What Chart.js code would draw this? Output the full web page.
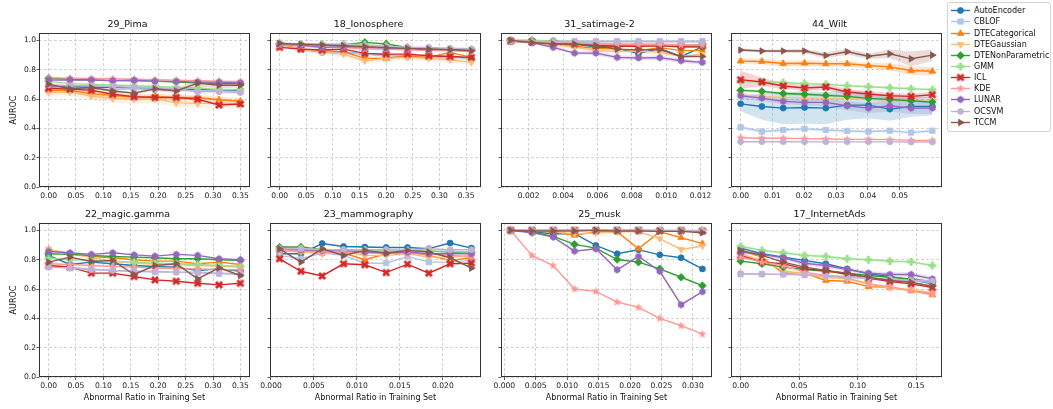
<!DOCTYPE html>
<html>
<head>
<meta charset="utf-8">
<script src="https://cdn.jsdelivr.net/npm/chart.js@4.4.1/dist/chart.umd.min.js"></script>
<style>
  body { margin: 0; background: #fff; font-family: 'DejaVu Sans', sans-serif; }
  #page { position: relative; width: 1053px; height: 409px; overflow: hidden; }
  .panel { position: absolute; }
  #legendBox { position: absolute; left: 947px; top: 2px; width: 104px; height: 130px; border: 1px solid #d3d3d3; border-radius: 3px; box-sizing: border-box; background: #fff; }
  .lrow { position: absolute; left: 950px; height: 11px; display: flex; align-items: center; font-size: 8px; color: #111; white-space: nowrap; }
  .lrow canvas { margin-right: 3px; }
</style>
</head>
<body>
<div id="page"><div id="legendBox"></div></div>
<script>
const methods = ['AutoEncoder', 'CBLOF', 'DTECategorical', 'DTEGaussian', 'DTENonParametric', 'GMM', 'ICL', 'KDE', 'LUNAR', 'OCSVM', 'TCCM'];
const colors = ['#1f77b4', '#aec7e8', '#ff7f0e', '#ffbb78', '#2ca02c', '#98df8a', '#d62728', '#ff9896', '#9467bd', '#c5b0d5', '#8c564b'];
const markers = ['circle', 'rect', 'triangle', 'triangleDown', 'rectRot', 'plus', 'x', 'star', 'hex', 'circle', 'triangleRight'];
const yTicks = [0, 0.2, 0.4, 0.6, 0.8, 1.0];

// 29_Pima
const pimaX = [0, 0.039, 0.078, 0.117, 0.156, 0.194, 0.233, 0.272, 0.311, 0.35];
const pimaTicks = [0, 0.05, 0.10, 0.15, 0.20, 0.25, 0.30, 0.35];
const pimaAUROC = [
  [0.69, 0.685, 0.68, 0.68, 0.675, 0.665, 0.665, 0.665, 0.66, 0.66],
  [0.68, 0.675, 0.67, 0.665, 0.67, 0.665, 0.66, 0.655, 0.655, 0.65],
  [0.66, 0.66, 0.635, 0.625, 0.61, 0.615, 0.61, 0.61, 0.595, 0.585],
  [0.644, 0.648, 0.62, 0.603, 0.598, 0.60, 0.575, 0.57, 0.57, 0.565],
  [0.742, 0.735, 0.73, 0.725, 0.725, 0.722, 0.716, 0.71, 0.705, 0.705],
  [0.72, 0.705, 0.70, 0.695, 0.69, 0.685, 0.68, 0.675, 0.665, 0.665],
  [0.673, 0.667, 0.66, 0.632, 0.616, 0.61, 0.61, 0.598, 0.559, 0.566],
  [0.745, 0.742, 0.74, 0.738, 0.735, 0.732, 0.728, 0.725, 0.722, 0.72],
  [0.73, 0.73, 0.73, 0.725, 0.728, 0.72, 0.72, 0.715, 0.715, 0.71],
  [0.696, 0.69, 0.69, 0.685, 0.68, 0.675, 0.67, 0.65, 0.65, 0.644],
  [0.70, 0.67, 0.678, 0.655, 0.64, 0.67, 0.655, 0.708, 0.694, 0.694]
];
const pimaStd = {
  DTEGaussian: [0.03, 0.03, 0.03, 0.03, 0.03, 0.03, 0.03, 0.03, 0.03, 0.03],
  DTECategorical: [0.02, 0.02, 0.02, 0.02, 0.02, 0.02, 0.02, 0.02, 0.02, 0.02],
  TCCM: [0.01, 0.01, 0.01, 0.01, 0.01, 0.015, 0.015, 0.025, 0.02, 0.015],
  OCSVM: [0.015, 0.015, 0.015, 0.015, 0.015, 0.015, 0.015, 0.015, 0.015, 0.015]
};

// 18_Ionosphere
const ionoX = [0, 0.04, 0.08, 0.12, 0.16, 0.20, 0.24, 0.28, 0.32, 0.36];
const ionoTicks = [0, 0.05, 0.10, 0.15, 0.20, 0.25, 0.30, 0.35];
const ionoAUROC = [
  [0.963, 0.94, 0.918, 0.918, 0.906, 0.90, 0.89, 0.89, 0.89, 0.877],
  [0.963, 0.94, 0.92, 0.918, 0.906, 0.895, 0.895, 0.89, 0.884, 0.877],
  [0.975, 0.94, 0.93, 0.922, 0.877, 0.877, 0.895, 0.884, 0.918, 0.884],
  [0.963, 0.94, 0.918, 0.906, 0.86, 0.877, 0.884, 0.877, 0.868, 0.85],
  [0.975, 0.975, 0.97, 0.97, 0.986, 0.975, 0.952, 0.93, 0.94, 0.936],
  [0.98, 0.975, 0.975, 0.975, 0.97, 0.96, 0.952, 0.945, 0.94, 0.936],
  [0.952, 0.94, 0.934, 0.94, 0.911, 0.906, 0.906, 0.895, 0.89, 0.884],
  [0.968, 0.963, 0.952, 0.952, 0.94, 0.94, 0.936, 0.93, 0.93, 0.922],
  [0.975, 0.968, 0.952, 0.957, 0.952, 0.947, 0.945, 0.94, 0.94, 0.936],
  [0.98, 0.975, 0.97, 0.968, 0.963, 0.957, 0.952, 0.952, 0.945, 0.94],
  [0.979, 0.973, 0.968, 0.963, 0.957, 0.95, 0.945, 0.94, 0.936, 0.929]
];
const ionoStd = {
  CBLOF: [0.01, 0.015, 0.015, 0.015, 0.015, 0.015, 0.015, 0.015, 0.015, 0.015],
  DTEGaussian: [0.01, 0.015, 0.02, 0.02, 0.02, 0.02, 0.02, 0.02, 0.02, 0.02],
  LUNAR: [0.01, 0.01, 0.015, 0.015, 0.015, 0.015, 0.015, 0.015, 0.015, 0.015]
};

// 31_satimage-2
const satX = [0.00095, 0.00219, 0.00343, 0.00467, 0.00591, 0.00715, 0.00839, 0.00963, 0.01087, 0.01211];
const satTicks = [0.002, 0.004, 0.006, 0.008, 0.010, 0.012];
const satAUROC = [
  [1.0, 0.985, 0.975, 0.975, 0.955, 0.945, 0.91, 0.945, 0.89, 0.955],
  [0.998, 0.995, 0.995, 0.995, 0.995, 0.995, 0.995, 0.995, 0.995, 0.995],
  [0.995, 0.985, 0.975, 0.96, 0.945, 0.94, 0.93, 0.95, 0.93, 0.93],
  [0.99, 0.985, 0.97, 0.955, 0.93, 0.925, 0.925, 0.92, 0.89, 0.905],
  [1.0, 1.0, 0.995, 0.98, 0.96, 0.963, 0.965, 0.965, 0.955, 0.955],
  [1.0, 1.0, 0.995, 0.985, 0.98, 0.975, 0.975, 0.975, 0.97, 0.97],
  [0.995, 0.99, 0.98, 0.975, 0.965, 0.96, 0.96, 0.962, 0.96, 0.962],
  [0.995, 0.99, 0.985, 0.98, 0.975, 0.972, 0.97, 0.97, 0.968, 0.968],
  [0.995, 0.985, 0.952, 0.913, 0.913, 0.884, 0.88, 0.882, 0.861, 0.85],
  [0.995, 0.99, 0.99, 0.99, 0.99, 0.99, 0.99, 0.99, 0.99, 0.99],
  [1.0, 0.985, 0.975, 0.975, 0.965, 0.94, 0.935, 0.937, 0.89, 0.89]
];
const satStd = {
  DTEGaussian: [0.005, 0.01, 0.015, 0.015, 0.015, 0.015, 0.015, 0.015, 0.015, 0.015],
  LUNAR: [0.005, 0.01, 0.01, 0.01, 0.015, 0.015, 0.015, 0.015, 0.015, 0.015]
};

// 44_Wilt
const wiltX = [0, 0.0067, 0.0134, 0.0201, 0.0268, 0.0335, 0.0402, 0.0469, 0.0536, 0.0603];
const wiltTicks = [0, 0.01, 0.02, 0.03, 0.04, 0.05];
const wiltAUROC = [
  [0.567, 0.549, 0.538, 0.542, 0.538, 0.558, 0.558, 0.531, 0.549, 0.549],
  [0.407, 0.378, 0.389, 0.396, 0.389, 0.382, 0.378, 0.384, 0.371, 0.384],
  [0.858, 0.856, 0.842, 0.844, 0.840, 0.840, 0.828, 0.819, 0.794, 0.789],
  [0.629, 0.618, 0.611, 0.606, 0.604, 0.602, 0.60, 0.595, 0.588, 0.584],
  [0.659, 0.652, 0.638, 0.632, 0.625, 0.618, 0.604, 0.597, 0.588, 0.579],
  [0.72, 0.718, 0.712, 0.705, 0.70, 0.691, 0.684, 0.677, 0.67, 0.664],
  [0.732, 0.716, 0.689, 0.675, 0.682, 0.648, 0.634, 0.622, 0.618, 0.629],
  [0.336, 0.332, 0.332, 0.330, 0.327, 0.325, 0.325, 0.323, 0.318, 0.318],
  [0.622, 0.606, 0.584, 0.577, 0.577, 0.554, 0.538, 0.554, 0.538, 0.538],
  [0.309, 0.309, 0.309, 0.308, 0.308, 0.308, 0.308, 0.308, 0.307, 0.307],
  [0.934, 0.927, 0.927, 0.927, 0.897, 0.922, 0.892, 0.908, 0.874, 0.899]
];
const wiltStd = {
  AutoEncoder: [0.05, 0.09, 0.11, 0.11, 0.11, 0.10, 0.09, 0.08, 0.07, 0.06],
  CBLOF: [0.012, 0.012, 0.012, 0.012, 0.012, 0.012, 0.012, 0.012, 0.012, 0.012],
  DTECategorical: [0.02, 0.02, 0.02, 0.02, 0.02, 0.02, 0.02, 0.025, 0.03, 0.03],
  DTENonParametric: [0.01, 0.01, 0.01, 0.01, 0.01, 0.01, 0.01, 0.01, 0.01, 0.01],
  GMM: [0.01, 0.01, 0.01, 0.01, 0.01, 0.01, 0.01, 0.01, 0.01, 0.01],
  ICL: [0.06, 0.03, 0.02, 0.02, 0.02, 0.02, 0.02, 0.02, 0.02, 0.02],
  LUNAR: [0.02, 0.02, 0.02, 0.02, 0.025, 0.03, 0.035, 0.04, 0.04, 0.04],
  TCCM: [0.01, 0.01, 0.01, 0.015, 0.02, 0.02, 0.02, 0.03, 0.05, 0.04]
};

// 22_magic.gamma
const magicX = [0, 0.039, 0.078, 0.117, 0.156, 0.194, 0.233, 0.272, 0.311, 0.35];
const magicTicks = [0, 0.05, 0.10, 0.15, 0.20, 0.25, 0.30, 0.35];
const magicAUROC = [
  [0.829, 0.767, 0.783, 0.772, 0.76, 0.753, 0.749, 0.726, 0.737, 0.721],
  [0.76, 0.749, 0.737, 0.726, 0.721, 0.715, 0.715, 0.708, 0.703, 0.699],
  [0.868, 0.84, 0.822, 0.813, 0.799, 0.79, 0.79, 0.772, 0.783, 0.767],
  [0.87, 0.84, 0.815, 0.79, 0.775, 0.77, 0.765, 0.76, 0.755, 0.75],
  [0.84, 0.836, 0.829, 0.822, 0.817, 0.813, 0.806, 0.806, 0.799, 0.795],
  [0.81, 0.80, 0.795, 0.788, 0.783, 0.776, 0.772, 0.767, 0.76, 0.756],
  [0.76, 0.749, 0.708, 0.708, 0.685, 0.662, 0.653, 0.639, 0.628, 0.639],
  [0.772, 0.767, 0.76, 0.753, 0.749, 0.742, 0.737, 0.737, 0.733, 0.731],
  [0.856, 0.847, 0.836, 0.847, 0.833, 0.824, 0.836, 0.829, 0.806, 0.799],
  [0.749, 0.742, 0.731, 0.726, 0.721, 0.719, 0.715, 0.715, 0.71, 0.703],
  [0.783, 0.817, 0.788, 0.795, 0.699, 0.76, 0.772, 0.669, 0.744, 0.692]
];
const magicStd = {};

// 23_mammography
const mammoX = [0.001, 0.00348, 0.00596, 0.00844, 0.01092, 0.0134, 0.01588, 0.01836, 0.02084, 0.02332];
const mammoTicks = [0, 0.005, 0.010, 0.015, 0.020];
const mammoAUROC = [
  [0.84, 0.84, 0.91, 0.89, 0.886, 0.883, 0.883, 0.875, 0.913, 0.879],
  [0.829, 0.806, 0.845, 0.829, 0.776, 0.776, 0.822, 0.783, 0.783, 0.795],
  [0.863, 0.852, 0.852, 0.845, 0.80, 0.84, 0.852, 0.829, 0.795, 0.813],
  [0.863, 0.856, 0.84, 0.852, 0.829, 0.829, 0.84, 0.817, 0.817, 0.829],
  [0.886, 0.886, 0.868, 0.863, 0.863, 0.863, 0.863, 0.858, 0.852, 0.852],
  [0.874, 0.874, 0.868, 0.863, 0.863, 0.863, 0.863, 0.858, 0.858, 0.852],
  [0.806, 0.721, 0.689, 0.772, 0.765, 0.712, 0.769, 0.708, 0.772, 0.776],
  [0.863, 0.863, 0.852, 0.852, 0.845, 0.845, 0.84, 0.84, 0.829, 0.822],
  [0.874, 0.868, 0.863, 0.863, 0.852, 0.845, 0.852, 0.84, 0.84, 0.84],
  [0.874, 0.874, 0.868, 0.868, 0.868, 0.868, 0.863, 0.874, 0.868, 0.868],
  [0.874, 0.783, 0.874, 0.829, 0.863, 0.845, 0.863, 0.852, 0.813, 0.742]
];
const mammoStd = {};

// 25_musk
const muskX = [0.001, 0.00439, 0.00778, 0.01117, 0.01456, 0.01795, 0.02134, 0.02473, 0.02812, 0.03151];
const muskTicks = [0, 0.005, 0.010, 0.015, 0.020, 0.025, 0.030];
const muskAUROC = [
  [1.0, 0.99, 0.977, 0.977, 0.897, 0.84, 0.868, 0.833, 0.813, 0.737],
  [1.0, 1.0, 1.0, 1.0, 1.0, 1.0, 1.0, 1.0, 1.0, 0.998],
  [1.0, 0.995, 0.99, 0.966, 0.99, 0.99, 0.874, 0.99, 0.95, 0.909],
  [1.0, 0.995, 0.99, 0.977, 0.982, 0.99, 0.99, 0.943, 0.87, 0.893],
  [1.0, 0.99, 0.959, 0.904, 0.879, 0.801, 0.783, 0.737, 0.68, 0.623],
  [1.0, 1.0, 1.0, 1.0, 1.0, 1.0, 1.0, 1.0, 1.0, 1.0],
  [1.0, 1.0, 1.0, 1.0, 1.0, 1.0, 1.0, 0.998, 0.998, 0.995],
  [1.0, 0.829, 0.76, 0.60, 0.584, 0.511, 0.475, 0.40, 0.35, 0.292],
  [1.0, 0.984, 0.954, 0.858, 0.874, 0.731, 0.822, 0.721, 0.493, 0.582],
  [1.0, 1.0, 1.0, 1.0, 1.0, 1.0, 1.0, 1.0, 0.998, 0.998],
  [1.0, 0.995, 0.995, 0.995, 1.0, 0.995, 0.995, 0.993, 0.993, 0.984]
];
const muskStd = {};

// 17_InternetAds
const adsX = [0, 0.0182, 0.0364, 0.0546, 0.0728, 0.091, 0.1092, 0.1274, 0.1456, 0.1638];
const adsTicks = [0, 0.05, 0.10, 0.15];
const adsAUROC = [
  [0.879, 0.84, 0.817, 0.795, 0.772, 0.737, 0.703, 0.685, 0.662, 0.635],
  [0.70, 0.70, 0.70, 0.695, 0.69, 0.68, 0.67, 0.66, 0.655, 0.645],
  [0.863, 0.817, 0.708, 0.708, 0.658, 0.653, 0.616, 0.612, 0.589, 0.56],
  [0.84, 0.795, 0.726, 0.699, 0.68, 0.669, 0.635, 0.607, 0.594, 0.575],
  [0.79, 0.772, 0.749, 0.733, 0.721, 0.708, 0.692, 0.68, 0.669, 0.651],
  [0.89, 0.863, 0.847, 0.829, 0.822, 0.806, 0.799, 0.79, 0.785, 0.76],
  [0.829, 0.783, 0.772, 0.737, 0.726, 0.699, 0.674, 0.651, 0.635, 0.61],
  [0.817, 0.783, 0.76, 0.715, 0.692, 0.674, 0.635, 0.616, 0.589, 0.566],
  [0.852, 0.836, 0.813, 0.776, 0.76, 0.733, 0.708, 0.699, 0.699, 0.669],
  [0.705, 0.703, 0.70, 0.698, 0.69, 0.685, 0.675, 0.668, 0.66, 0.655],
  [0.863, 0.829, 0.783, 0.749, 0.726, 0.708, 0.68, 0.658, 0.646, 0.619]
];
const adsStd = {
  DTEGaussian: [0.01, 0.015, 0.02, 0.015, 0.015, 0.015, 0.015, 0.015, 0.015, 0.015],
  GMM: [0.01, 0.01, 0.01, 0.01, 0.01, 0.01, 0.01, 0.01, 0.01, 0.01],
  LUNAR: [0.01, 0.01, 0.015, 0.015, 0.015, 0.015, 0.015, 0.015, 0.015, 0.015]
};

const panels = [
  { title: '29_Pima', x: pimaX, y: pimaAUROC, std: pimaStd, ticks: pimaTicks, dec: 2, col: 0, row: 0 },
  { title: '18_Ionosphere', x: ionoX, y: ionoAUROC, std: ionoStd, ticks: ionoTicks, dec: 2, col: 1, row: 0 },
  { title: '31_satimage-2', x: satX, y: satAUROC, std: satStd, ticks: satTicks, dec: 3, col: 2, row: 0 },
  { title: '44_Wilt', x: wiltX, y: wiltAUROC, std: wiltStd, ticks: wiltTicks, dec: 2, col: 3, row: 0 },
  { title: '22_magic.gamma', x: magicX, y: magicAUROC, std: magicStd, ticks: magicTicks, dec: 2, col: 0, row: 1 },
  { title: '23_mammography', x: mammoX, y: mammoAUROC, std: mammoStd, ticks: mammoTicks, dec: 3, col: 1, row: 1 },
  { title: '25_musk', x: muskX, y: muskAUROC, std: muskStd, ticks: muskTicks, dec: 3, col: 2, row: 1 },
  { title: '17_InternetAds', x: adsX, y: adsAUROC, std: adsStd, ticks: adsTicks, dec: 2, col: 3, row: 1 }
];

// plot-area geometry (matches the matplotlib axes boxes)
const colLeft = [38.5, 270, 500.5, 731];
const rowTop = [33, 222.7];
const plotW = 211, plotH = 154;
const FONT = "'DejaVu Sans', sans-serif";

function hexToRgba(hex, a) {
  const n = parseInt(hex.slice(1), 16);
  return `rgba(${(n >> 16) & 255},${(n >> 8) & 255},${n & 255},${a})`;
}

// filled marker shapes chart.js has no built-in for
function markerCanvas(kind, color) {
  const s = 10, c = document.createElement('canvas');
  c.width = s; c.height = s;
  const g = c.getContext('2d');
  g.fillStyle = color;
  g.translate(s / 2, s / 2);
  g.beginPath();
  if (kind === 'plus' || kind === 'x') {
    if (kind === 'x') g.rotate(Math.PI / 4);
    const a = 1.4, b = kind === 'x' ? 4.3 : 3.9;
    [[-a, -b], [a, -b], [a, -a], [b, -a], [b, a], [a, a], [a, b], [-a, b], [-a, a], [-b, a], [-b, -a], [-a, -a]]
      .forEach(([px, py], k) => k ? g.lineTo(px, py) : g.moveTo(px, py));
  } else if (kind === 'star') {
    for (let k = 0; k < 10; k++) {
      const r = k % 2 ? 1.9 : 4.5, t = -Math.PI / 2 + k * Math.PI / 5;
      g.lineTo(r * Math.cos(t), r * Math.sin(t));
    }
  } else if (kind === 'hex') {
    for (let k = 0; k < 6; k++) {
      const t = -Math.PI / 2 + k * Math.PI / 3;
      g.lineTo(3.7 * Math.cos(t), 3.7 * Math.sin(t));
    }
  }
  g.closePath();
  g.fill();
  return c;
}

function pointOpts(i) {
  const m = markers[i];
  if (m === 'circle') return { style: 'circle', r: 3, rot: 0 };
  if (m === 'rect') return { style: 'rect', r: 3.8, rot: 0 };
  if (m === 'triangle') return { style: 'triangle', r: 3.8, rot: 0 };
  if (m === 'triangleDown') return { style: 'triangle', r: 3.8, rot: 180 };
  if (m === 'triangleRight') return { style: 'triangle', r: 3.8, rot: 90 };
  if (m === 'rectRot') return { style: 'rectRot', r: 3.8, rot: 0 };
  return { style: markerCanvas(m, colors[i]), r: 4, rot: 0 };
}

const framePlugin = {
  id: 'frame',
  afterDatasetsDraw(chart) {
    const a = chart.chartArea, ctx = chart.ctx;
    ctx.save();
    ctx.strokeStyle = '#333';
    ctx.lineWidth = 1;
    ctx.strokeRect(Math.round(a.left) + 0.5, Math.round(a.top) + 0.5, Math.round(a.right - a.left) - 1, Math.round(a.bottom - a.top) - 1);
    ctx.restore();
  }
};

const page = document.getElementById('page');

panels.forEach(p => {
  const padL = p.col === 0 ? 34 : 14;
  const padR = 5, padT = 14;
  const padB = p.row === 1 ? 27 : 14;
  const div = document.createElement('div');
  div.className = 'panel';
  div.style.left = (colLeft[p.col] - padL) + 'px';
  div.style.top = (rowTop[p.row] - padT) + 'px';
  div.style.width = (plotW + padL + padR) + 'px';
  div.style.height = (plotH + padT + padB) + 'px';
  const cv = document.createElement('canvas');
  div.appendChild(cv);
  page.appendChild(div);

  const datasets = [];
  methods.forEach((m, i) => {
    const band = p.std[m];
    if (band) {
      datasets.push({
        data: p.x.map((xv, k) => ({ x: xv, y: p.y[i][k] - band[k] })),
        borderColor: 'transparent', borderWidth: 0, pointRadius: 0, fill: false, order: 50
      });
      datasets.push({
        data: p.x.map((xv, k) => ({ x: xv, y: p.y[i][k] + band[k] })),
        borderColor: 'transparent', borderWidth: 0, pointRadius: 0,
        fill: '-1', backgroundColor: hexToRgba(colors[i], 0.2), order: 50
      });
    }
    const po = pointOpts(i);
    datasets.push({
      label: m,
      data: p.x.map((xv, k) => ({ x: xv, y: p.y[i][k] })),
      borderColor: colors[i],
      backgroundColor: colors[i],
      pointBackgroundColor: colors[i],
      pointBorderColor: colors[i],
      borderWidth: 1.4,
      pointBorderWidth: 0.8,
      pointStyle: po.style,
      pointRadius: po.r,
      pointRotation: po.rot,
      fill: false,
      order: 20 - i
    });
  });

  const span = p.x[p.x.length - 1] - p.x[0];
  const xScaleTitle = p.row === 1
    ? { display: true, text: 'Abnormal Ratio in Training Set', font: { family: FONT, size: 8 }, color: '#111', padding: { top: 0, bottom: 1.5 } }
    : { display: false };
  const yScaleTitle = p.col === 0
    ? { display: true, text: 'AUROC', font: { family: FONT, size: 8 }, color: '#111', padding: { top: 4, bottom: 4 } }
    : { display: false };

  new Chart(cv, {
    type: 'line',
    data: { datasets },
    plugins: [framePlugin],
    options: {
      responsive: true,
      maintainAspectRatio: false,
      animation: false,
      events: [],
      layout: { padding: { left: 0, right: padR, top: 0, bottom: 0 } },
      plugins: {
        legend: { display: false },
        tooltip: { enabled: false },
        title: { display: true, text: p.title, color: '#111', font: { family: FONT, size: 9.5, weight: 'normal', lineHeight: 1.2 }, padding: { top: 0, bottom: 2.6 } }
      },
      scales: {
        x: {
          type: 'linear',
          min: p.x[0] - span * 0.05,
          max: p.x[p.x.length - 1] + span * 0.05,
          afterBuildTicks: s => { s.ticks = p.ticks.map(v => ({ value: v })); },
          afterFit: s => { s.height = padB; },
          ticks: { callback: v => v.toFixed(p.dec), font: { family: FONT, size: 7.6 }, color: '#222', padding: 1, maxRotation: 0, autoSkip: false },
          grid: { color: 'rgba(176,176,176,0.55)', tickColor: '#333', tickLength: 3, tickBorderDash: [], tickWidth: 0.8 },
          border: { display: false, dash: [3, 2] },
          title: xScaleTitle
        },
        y: {
          min: 0,
          max: 1.05,
          afterBuildTicks: s => { s.ticks = yTicks.map(v => ({ value: v })); },
          afterFit: s => { s.width = padL; },
          ticks: { callback: v => p.col === 0 ? v.toFixed(1) : '', font: { family: FONT, size: 7.6 }, color: '#222', padding: 0.5 },
          grid: { color: 'rgba(176,176,176,0.55)', tickColor: '#333', tickLength: 2.5, tickBorderDash: [], tickWidth: 0.8 },
          border: { display: false, dash: [3, 2] },
          title: yScaleTitle
        }
      }
    }
  });
});

// legend
methods.forEach((m, i) => {
  const row = document.createElement('div');
  row.className = 'lrow';
  row.style.top = (10.7 + i * 11.16 - 5.5) + 'px';
  const c = document.createElement('canvas');
  c.width = 21; c.height = 11;
  const g = c.getContext('2d');
  g.strokeStyle = colors[i];
  g.fillStyle = colors[i];
  g.lineWidth = 1.4;
  g.beginPath(); g.moveTo(1, 5.5); g.lineTo(20, 5.5); g.stroke();
  const po = pointOpts(i);
  g.lineWidth = 0.8;
  Chart.helpers.drawPoint(g, { pointStyle: po.style, rotation: po.rot, radius: po.r, borderWidth: 0.8 }, 10.5, 5.5);
  const t = document.createElement('span');
  t.textContent = m;
  row.appendChild(c);
  row.appendChild(t);
  page.appendChild(row);
});
</script>
</body>
</html>
